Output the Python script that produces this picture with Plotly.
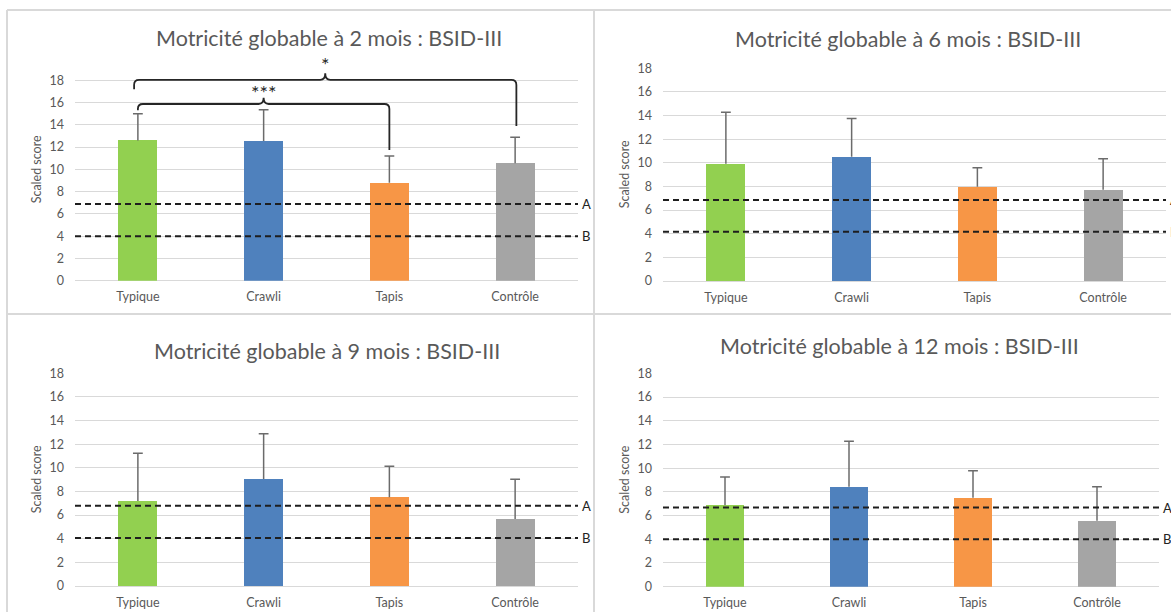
import plotly.graph_objects as go

# ---------------- data ----------------
categories = ["Typique", "Crawli", "Tapis", "Contrôle"]
bar_colors = ["#92D050", "#4F81BD", "#F79646", "#A5A5A5"]

titles = [
    "Motricité globable à 2 mois : BSID-III",
    "Motricité globable à 6 mois : BSID-III",
    "Motricité globable à 9 mois : BSID-III",
    "Motricité globable à 12 mois : BSID-III",
]

mean_2m = [12.6, 12.55, 8.8, 10.55]
sd_2m = [2.4, 2.8, 2.4, 2.33]
mean_6m = [9.92, 10.52, 7.98, 7.72]
sd_6m = [4.35, 3.24, 1.6, 2.63]
mean_9m = [7.19, 9.05, 7.5, 5.67]
sd_9m = [4.04, 3.84, 2.63, 3.36]
mean_12m = [6.88, 8.43, 7.5, 5.56]
sd_12m = [2.37, 3.83, 2.28, 2.87]

threshold_A = [6.89, 6.85, 6.8, 6.68]
threshold_B = [3.99, 4.17, 4.06, 4.0]

y_tickvals = [0, 2, 4, 6, 8, 10, 12, 14, 16, 18]

# significance brackets (2-month panel)
sig_left = [0, -0.03]
sig_right = [2, 3.01]
sig_level = [15.87, 18.03]
sig_left_end = [15.3, 17.2]
sig_right_end = [11.74, 13.9]
sig_tip = [16.42, 18.62]
sig_label_y = [16.95, 19.5]
sig_labels = ["***", "*"]

means = [mean_2m, mean_6m, mean_9m, mean_12m]
sds = [sd_2m, sd_6m, sd_9m, sd_12m]

# ---------------- layout geometry (pixels) ----------------
W, H = 1171, 612
geom = [
    dict(x0=75, x1=578, ybot=280.7, ytop=58.0, ymax=20.0),
    dict(x0=663, x1=1166, ybot=281.0, ytop=67.7, ymax=18.05),
    dict(x0=75, x1=578, ybot=586.0, ytop=372.7, ymax=18.05),
    dict(x0=663, x1=1159, ybot=586.7, ytop=372.7, ymax=18.05),
]
title_pos = [(329.5, 37.5), (908, 39.5), (326.5, 350.5), (899.5, 346)]

FONT = "Lato, Carlito, Calibri, sans-serif"
GRAY_TXT = "#595959"
GRID = "#D9D9D9"

fig = go.Figure()
shapes = []
annotations = []
layout_axes = {}

for i in range(4):
    n = i + 1
    sfx = "" if n == 1 else str(n)
    g = geom[i]
    xa = "x" + sfx
    ya = "y" + sfx

    # bars
    fig.add_trace(go.Bar(
        x=list(range(len(categories))), y=means[i],
        marker=dict(color=bar_colors, line=dict(width=0)),
        width=0.31, xaxis=xa, yaxis=ya, showlegend=False,
        hoverinfo="skip",
    ))
    # error bars (plus direction only)
    ex, ey = [], []
    for k, (m, s) in enumerate(zip(means[i], sds[i])):
        ex += [k, k, None]
        ey += [m, m + s, None]
    fig.add_trace(go.Scatter(
        x=ex, y=ey, mode="lines", line=dict(color="#6B6B6B", width=1.5),
        xaxis=xa, yaxis=ya, showlegend=False, hoverinfo="skip",
    ))
    fig.add_trace(go.Scatter(
        x=list(range(len(categories))),
        y=[m + s for m, s in zip(means[i], sds[i])],
        mode="markers",
        marker=dict(symbol="line-ew", size=7, color="#6B6B6B",
                    line=dict(width=1.5, color="#6B6B6B")),
        xaxis=xa, yaxis=ya, showlegend=False, hoverinfo="skip",
    ))

    layout_axes["xaxis" + sfx] = dict(
        domain=[g["x0"] / W, g["x1"] / W], anchor=ya,
        range=[-0.5, len(categories) - 0.5],
        tickvals=list(range(len(categories))), ticktext=categories,
        showgrid=False, zeroline=False, showline=False, ticks="",
        tickfont=dict(family=FONT, size=12.5, color=GRAY_TXT),
        ticklabelstandoff=7, fixedrange=True,
    )
    layout_axes["yaxis" + sfx] = dict(
        domain=[1 - g["ybot"] / H, 1 - g["ytop"] / H], anchor=xa,
        range=[0, g["ymax"]], tickvals=y_tickvals,
        showgrid=True, gridcolor=GRID, gridwidth=1,
        zeroline=True, zerolinecolor=GRID, zerolinewidth=1,
        showline=False, ticks="",
        tickfont=dict(family=FONT, size=12.5, color=GRAY_TXT),
        ticklabelstandoff=10,
        title=dict(text="Scaled score", font=dict(family=FONT, size=12.5, color=GRAY_TXT), standoff=5),
        fixedrange=True,
    )

    # threshold dashed lines A / B
    for val, lab in ((threshold_A[i], "A"), (threshold_B[i], "B")):
        shapes.append(dict(type="line", xref=xa + " domain", yref=ya,
                           x0=0, x1=1.0, y0=val, y1=val,
                           line=dict(color="#1E1E1E", width=2, dash="6px,4px"),
                           layer="above"))
        annotations.append(dict(text=lab, xref=xa + " domain", yref=ya,
                                x=1.0, y=val, xanchor="left", yanchor="middle",
                                xshift=2, showarrow=False,
                                font=dict(family=FONT, size=13, color="#222222")))

    # panel title
    tx, ty = title_pos[i]
    annotations.append(dict(text=titles[i], xref="paper", yref="paper",
                            x=tx / W, y=1 - ty / H, xanchor="center", yanchor="middle",
                            showarrow=False,
                            font=dict(family=FONT, size=21.5, color=GRAY_TXT)))

# significance brackets on the 2-month panel
rx, ry = 0.04, 0.45
for L, R, lev, le, re, tip, ly, lab in zip(sig_left, sig_right, sig_level, sig_left_end,
                                          sig_right_end, sig_tip, sig_label_y, sig_labels):
    xm = (L + R) / 2
    path = (f"M {L},{le} L {L},{lev - ry} Q {L},{lev} {L + rx},{lev} "
            f"L {xm - rx},{lev} Q {xm},{lev} {xm},{tip} "
            f"Q {xm},{lev} {xm + rx},{lev} L {R - rx},{lev} "
            f"Q {R},{lev} {R},{lev - ry} L {R},{re}")
    shapes.append(dict(type="path", xref="x", yref="y", path=path,
                       line=dict(color="#262626", width=1.8), layer="above"))
    annotations.append(dict(text=lab, xref="x", yref="y", x=xm, y=ly,
                            xanchor="center", yanchor="middle", showarrow=False,
                            font=dict(family=FONT, size=20, color="#262626")))

# panel borders
BC = "#D9D9D9"
for (x0, y0, x1, y1) in [(7, 10, W, 10), (7, 314, W, 314),
                         (7, 10, 7, H), (594, 10, 594, H)]:
    shapes.append(dict(type="line", xref="paper", yref="paper",
                       x0=x0 / W, x1=x1 / W, y0=1 - y0 / H, y1=1 - y1 / H,
                       line=dict(color=BC, width=2), layer="below"))

fig.update_layout(
    width=W, height=H, margin=dict(l=0, r=0, t=0, b=0),
    paper_bgcolor="white", plot_bgcolor="white",
    template="none", showlegend=False, bargap=0,
    shapes=shapes, annotations=annotations,
    font=dict(family=FONT),
    **layout_axes,
)

fig.write_html("out.html",
               config={"displayModeBar": False, "staticPlot": True},
               post_script="document.body.style.margin='0';document.body.style.overflow='hidden';")
